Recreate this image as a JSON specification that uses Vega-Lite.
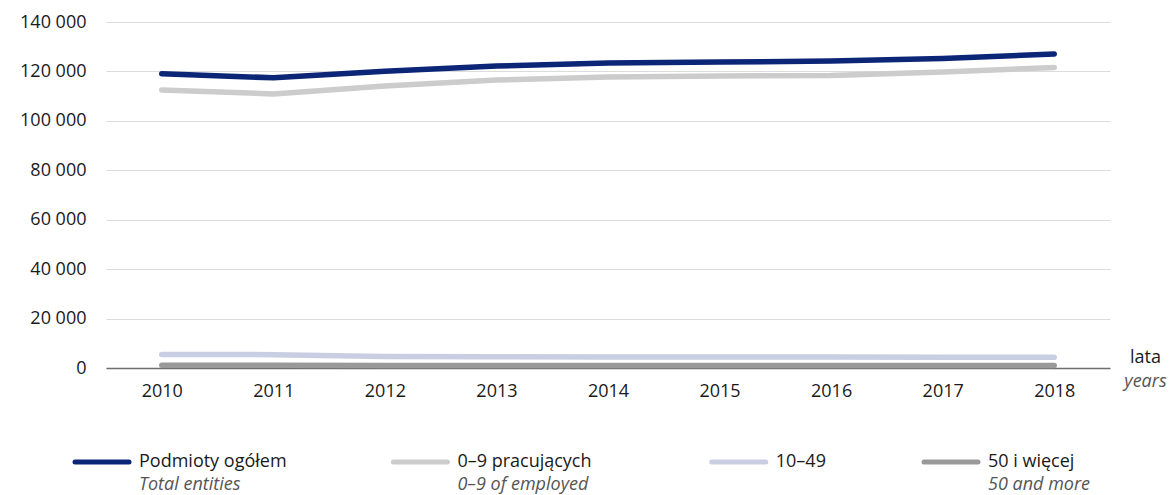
{
  "$schema": "https://vega.github.io/schema/vega-lite/v6.json",
  "padding": {"left": 19, "top": 13, "right": 0, "bottom": 0},
  "background": "white",
  "config": {
    "font": "Open Sans",
    "view": {"stroke": null},
    "axis": {"labelFont": "Open Sans", "titleFont": "Open Sans"},
    "text": {"font": "Open Sans"}
  },
  "spacing": 50,
  "vconcat": [
    {
      "width": 1004,
      "height": 346,
      "data": {"values": [
        {"series": "50 i więcej", "year": "2010", "value": 1100},
        {"series": "50 i więcej", "year": "2011", "value": 1100},
        {"series": "50 i więcej", "year": "2012", "value": 1050},
        {"series": "50 i więcej", "year": "2013", "value": 1050},
        {"series": "50 i więcej", "year": "2014", "value": 1050},
        {"series": "50 i więcej", "year": "2015", "value": 1050},
        {"series": "50 i więcej", "year": "2016", "value": 1050},
        {"series": "50 i więcej", "year": "2017", "value": 1050},
        {"series": "50 i więcej", "year": "2018", "value": 1050},
        {"series": "10–49", "year": "2010", "value": 5500},
        {"series": "10–49", "year": "2011", "value": 5400},
        {"series": "10–49", "year": "2012", "value": 4700},
        {"series": "10–49", "year": "2013", "value": 4600},
        {"series": "10–49", "year": "2014", "value": 4500},
        {"series": "10–49", "year": "2015", "value": 4500},
        {"series": "10–49", "year": "2016", "value": 4500},
        {"series": "10–49", "year": "2017", "value": 4400},
        {"series": "10–49", "year": "2018", "value": 4300},
        {"series": "0–9 pracujących", "year": "2010", "value": 112500},
        {"series": "0–9 pracujących", "year": "2011", "value": 110900},
        {"series": "0–9 pracujących", "year": "2012", "value": 114100},
        {"series": "0–9 pracujących", "year": "2013", "value": 116500},
        {"series": "0–9 pracujących", "year": "2014", "value": 117700},
        {"series": "0–9 pracujących", "year": "2015", "value": 118200},
        {"series": "0–9 pracujących", "year": "2016", "value": 118400},
        {"series": "0–9 pracujących", "year": "2017", "value": 119800},
        {"series": "0–9 pracujących", "year": "2018", "value": 121600},
        {"series": "Podmioty ogółem", "year": "2010", "value": 119100},
        {"series": "Podmioty ogółem", "year": "2011", "value": 117400},
        {"series": "Podmioty ogółem", "year": "2012", "value": 120100},
        {"series": "Podmioty ogółem", "year": "2013", "value": 122200},
        {"series": "Podmioty ogółem", "year": "2014", "value": 123400},
        {"series": "Podmioty ogółem", "year": "2015", "value": 123800},
        {"series": "Podmioty ogółem", "year": "2016", "value": 124200},
        {"series": "Podmioty ogółem", "year": "2017", "value": 125200},
        {"series": "Podmioty ogółem", "year": "2018", "value": 127100}
      ]},
      "layer": [
        {
          "mark": {"type": "line", "strokeWidth": 5.5, "strokeCap": "round", "strokeJoin": "round"},
          "encoding": {
            "x": {
              "field": "year", "type": "ordinal",
              "scale": {"type": "point", "padding": 0.5},
              "axis": {
                "orient": "bottom", "labelAngle": 0, "ticks": false, "grid": false,
                "domain": true, "domainColor": "#6e6e6e", "domainWidth": 1.5,
                "labelFontSize": 18, "labelColor": "#1a1a1a", "labelPadding": 14,
                "title": "lata", "titleFontSize": 18, "titleFontWeight": "normal", "titleColor": "#1a1a1a",
                "titleX": 1039, "titleY": -11, "titleAlign": "center", "titleBaseline": "middle"
              }
            },
            "y": {
              "field": "value", "type": "quantitative",
              "scale": {"domain": [0, 140000], "nice": false},
              "axis": {
                "values": [0, 20000, 40000, 60000, 80000, 100000, 120000, 140000],
                "labelExpr": "replace(format(datum.value, ','), ',', ' ')",
                "domain": false, "ticks": false, "grid": true, "gridColor": "#dcdcdc", "gridWidth": 1,
                "labelFontSize": 18, "labelColor": "#1a1a1a", "labelPadding": 20, "title": null
              }
            },
            "color": {
              "field": "series", "type": "nominal",
              "scale": {
                "domain": ["Podmioty ogółem", "0–9 pracujących", "10–49", "50 i więcej"],
                "range": ["#0b2577", "#cccccc", "#c9cee2", "#999999"]
              },
              "legend": null
            }
          }
        },
        {
          "mark": {"type": "line", "strokeOpacity": 0},
          "encoding": {
            "x": {
              "field": "year", "type": "ordinal",
              "axis": {
                "orient": "top", "labels": false, "ticks": false, "domain": false, "grid": false,
                "title": "years", "titleFontSize": 18, "titleFontWeight": "normal", "titleFontStyle": "italic",
                "titleColor": "#555555", "titleX": 1039, "titleY": 359, "titleAlign": "center", "titleBaseline": "middle"
              }
            },
            "y": {"field": "value", "type": "quantitative"},
            "detail": {"field": "series"}
          }
        }
      ],
      "resolve": {"axis": {"x": "independent"}}
    },
    {
      "width": 849,
      "height": 46,
      "data": {"values": [
        {"series": "Podmioty ogółem", "en": "Total entities"},
        {"series": "0–9 pracujących", "en": "0–9 of employed"},
        {"series": "10–49", "en": ""},
        {"series": "50 i więcej", "en": "50 and more"}
      ]},
      "encoding": {
        "x": {
          "field": "series", "type": "nominal",
          "scale": {"type": "point", "padding": 0, "domain": ["Podmioty ogółem", "_a", "_b", "0–9 pracujących", "_c", "_d", "10–49", "_e", "50 i więcej"]},
          "axis": null
        },
        "y": {"datum": 0, "type": "quantitative", "scale": {"domain": [-1, 1]}, "axis": null}
      },
      "layer": [
        {
          "mark": {"type": "rule", "strokeWidth": 5, "strokeCap": "round", "xOffset": -31, "x2Offset": 23, "yOffset": -11},
          "encoding": {
            "x2": {"field": "series"},
            "color": {
              "field": "series", "type": "nominal",
              "scale": {
                "domain": ["Podmioty ogółem", "0–9 pracujących", "10–49", "50 i więcej"],
                "range": ["#0b2577", "#cccccc", "#c9cee2", "#999999"]
              },
              "legend": null
            }
          }
        },
        {
          "mark": {"type": "text", "align": "left", "baseline": "middle", "dx": 33, "dy": -11, "fontSize": 18, "color": "#1a1a1a"},
          "encoding": {"text": {"field": "series"}}
        },
        {
          "mark": {"type": "text", "align": "left", "baseline": "middle", "dx": 33, "dy": 12, "fontSize": 18, "fontStyle": "italic", "color": "#555555"},
          "encoding": {"text": {"field": "en"}}
        }
      ]
    }
  ]
}
